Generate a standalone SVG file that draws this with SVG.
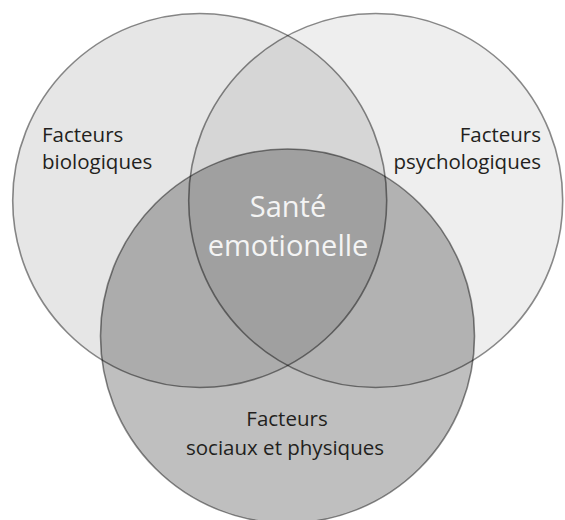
<svg xmlns="http://www.w3.org/2000/svg" width="565" height="520" viewBox="0 0 565 520">
  <style>
    .c { stroke: #000; stroke-opacity: 0.45; stroke-width: 1.6; fill: #000; }
    .lbl { font-family: "Open Sans", "Noto Sans", "Liberation Sans", sans-serif; font-size: 20.5px; fill: #231f20; }
    .ctr { font-family: "Open Sans", "Noto Sans", "Liberation Sans", sans-serif; font-size: 29px; fill: #f4f4f4; text-anchor: middle; }
  </style>
  <rect x="0" y="0" width="565" height="520" fill="#ffffff"/>
  <g id="bio">
    <circle class="c" cx="199.7" cy="200.5" r="187" fill-opacity="0.098"/>
  </g>
  <g id="psy">
    <circle class="c" cx="375.7" cy="200.5" r="187" fill-opacity="0.067"/>
  </g>
  <g id="soc">
    <circle class="c" cx="287.5" cy="336" r="187" fill-opacity="0.25"/>
  </g>
  <g id="connectors"></g>
  <g id="bio-label">
    <text class="lbl" x="42" y="142">Facteurs</text>
    <text class="lbl" x="42" y="169">biologiques</text>
  </g>
  <g id="psy-label">
    <text class="lbl" x="541" y="142" text-anchor="end">Facteurs</text>
    <text class="lbl" x="541" y="169" text-anchor="end">psychologiques</text>
  </g>
  <g id="soc-label">
    <text class="lbl" x="287" y="426" text-anchor="middle">Facteurs</text>
    <text class="lbl" x="285" y="455" text-anchor="middle">sociaux et physiques</text>
  </g>
  <g id="center">
    <text class="ctr" x="288" y="217">Santé</text>
    <text class="ctr" x="288" y="256">emotionelle</text>
  </g>
</svg>
